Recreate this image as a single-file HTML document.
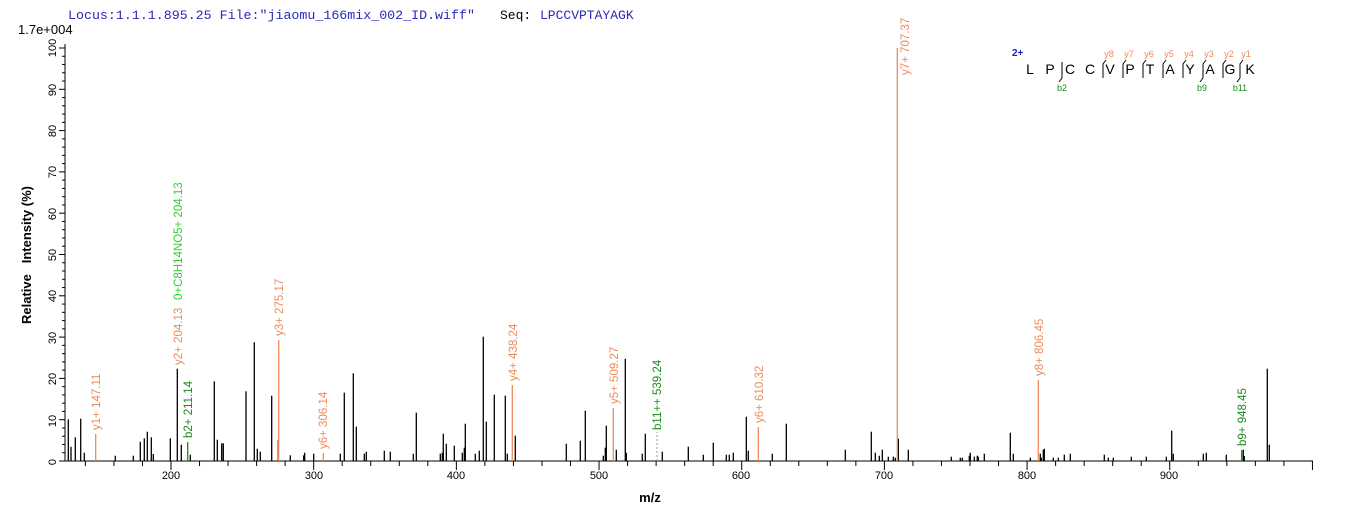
<!DOCTYPE html>
<html><head><meta charset="utf-8"><style>
html,body{margin:0;padding:0;background:#fff;}
svg{display:block;font-family:"Liberation Sans",Arial,sans-serif;}
</style></head><body>
<svg id="s" width="1362" height="520" viewBox="0 0 1362 520" xmlns="http://www.w3.org/2000/svg">
<text x="68" y="19" font-family="Liberation Mono, monospace" font-size="13.3" fill="#2a2ab8">Locus:1.1.1.895.25 File:"jiaomu_166mix_002_ID.wiff"</text>
<text x="500" y="19" font-family="Liberation Mono, monospace" font-size="13" fill="#000">Seq:</text>
<text x="540" y="19" font-family="Liberation Mono, monospace" font-size="13" fill="#2a2ab8">LPCCVPTAYAGK</text>
<text x="18" y="34" font-size="13" fill="#000">1.7e+004</text>
<text transform="translate(31,255) rotate(-90)" text-anchor="middle" font-size="13" font-weight="bold" fill="#000" style="white-space:pre">Relative   Intensity (%)</text>
<text x="650" y="502" text-anchor="middle" font-size="13" font-weight="bold" fill="#000">m/z</text>
<g id="ax" stroke="#000" stroke-width="1"></g>
<g id="pk" stroke="#000" stroke-width="1.3"></g>
<g font-size="11" fill="#000" text-anchor="middle">
<text transform="translate(56,462) rotate(-90)">0</text>
<text transform="translate(56,421) rotate(-90)">10</text>
<text transform="translate(56,379) rotate(-90)">20</text>
<text transform="translate(56,338) rotate(-90)">30</text>
<text transform="translate(56,296) rotate(-90)">40</text>
<text transform="translate(56,255) rotate(-90)">50</text>
<text transform="translate(56,214) rotate(-90)">60</text>
<text transform="translate(56,172) rotate(-90)">70</text>
<text transform="translate(56,131) rotate(-90)">80</text>
<text transform="translate(56,90) rotate(-90)">90</text>
<text transform="translate(56,48) rotate(-90)">100</text>
<text x="171" y="479">200</text><text x="314" y="479">300</text><text x="456" y="479">400</text>
<text x="599" y="479">500</text><text x="741" y="479">600</text><text x="884" y="479">700</text>
<text x="1027" y="479">800</text><text x="1169" y="479">900</text>
</g>
<g stroke="#ef8a5a" stroke-width="1.3">
<line x1="95.7" y1="461" x2="95.7" y2="434"/>
<line x1="278.7" y1="461" x2="278.7" y2="340"/>
<line x1="323.3" y1="461" x2="323.3" y2="453"/>
<line x1="512.3" y1="461" x2="512.3" y2="385"/>
<line x1="613.3" y1="461" x2="613.3" y2="408"/>
<line x1="758.3" y1="461" x2="758.3" y2="427"/>
<line x1="897.3" y1="461" x2="897.3" y2="48"/>
<line x1="1038.3" y1="461" x2="1038.3" y2="380"/>
</g>
<g stroke="#1a8a1a" stroke-width="1.3">
<line x1="187.7" y1="461" x2="187.7" y2="442"/>
<line x1="1241.7" y1="461" x2="1241.7" y2="450"/>
</g>
<line x1="657" y1="461" x2="657" y2="432" stroke="#999" stroke-dasharray="2,2"/>
<g font-size="11.5" fill="#ef8a5a">
<text transform="translate(100,430) rotate(-90)">y1+ 147.11</text>
<text transform="translate(182,365) rotate(-90)">y2+ 204.13</text>
<text transform="translate(283,336) rotate(-90)">y3+ 275.17</text>
<text transform="translate(327,449) rotate(-90)">y6+ 306.14</text>
<text transform="translate(517,381) rotate(-90)">y4+ 438.24</text>
<text transform="translate(618,404) rotate(-90)">y5+ 509.27</text>
<text transform="translate(763,423) rotate(-90)">y6+ 610.32</text>
<text transform="translate(909,75) rotate(-90)">y7+ 707.37</text>
<text transform="translate(1043,376) rotate(-90)">y8+ 806.45</text>
</g>
<g font-size="11.5" fill="#1a8a1a">
<text transform="translate(192,438) rotate(-90)">b2+ 211.14</text>
<text transform="translate(661,430) rotate(-90)">b11++ 539.24</text>
<text transform="translate(1246,446) rotate(-90)">b9+ 948.45</text>
</g>
<text transform="translate(182,300) rotate(-90)" font-size="11.5" fill="#33cc33">0+C8H14NO5+ 204.13</text>
<text x="1012" y="56" font-size="10" font-weight="bold" fill="#1a1acc">2+</text>
<g font-size="14" fill="#000" text-anchor="middle">
<text x="1030" y="74">L</text><text x="1050" y="74">P</text><text x="1070" y="74">C</text>
<text x="1090" y="74">C</text><text x="1110" y="74">V</text><text x="1130" y="74">P</text>
<text x="1150" y="74">T</text><text x="1170" y="74">A</text><text x="1190" y="74">Y</text>
<text x="1210" y="74">A</text><text x="1230" y="74">G</text><text x="1250" y="74">K</text>
</g>
<g stroke="#000" stroke-width="1" fill="none">
<path d="M1062,62 V78 L1059,82"/>
<path d="M1103,78 V64 L1106,60"/><path d="M1123,78 V64 L1126,60"/>
<path d="M1143,78 V64 L1146,60"/><path d="M1163,78 V64 L1166,60"/>
<path d="M1183,78 V64 L1186,60"/><path d="M1203,78 V64 L1206,60 M1203,78 L1200,82"/>
<path d="M1223,78 V64 L1226,60"/><path d="M1240,78 V64 L1243,60 M1240,78 L1237,82"/>
</g>
<g font-size="9" fill="#ef8a5a" text-anchor="middle">
<text x="1109" y="57">y8</text><text x="1129" y="57">y7</text><text x="1149" y="57">y6</text>
<text x="1169" y="57">y5</text><text x="1189" y="57">y4</text><text x="1209" y="57">y3</text>
<text x="1229" y="57">y2</text><text x="1246" y="57">y1</text>
</g>
<g font-size="9" fill="#1a8a1a" text-anchor="middle">
<text x="1062" y="91">b2</text><text x="1202" y="91">b9</text><text x="1240" y="91">b11</text>
</g>
</svg>
<script>
var NS="http://www.w3.org/2000/svg";
function L(g,x1,y1,x2,y2){var l=document.createElementNS(NS,"line");l.setAttribute("x1",x1);l.setAttribute("y1",y1);l.setAttribute("x2",x2);l.setAttribute("y2",y2);g.appendChild(l);}
var ax=document.getElementById("ax");
L(ax,65,461,1313,461);L(ax,65,461,65,44);
for(var i=0;i<=50;i++){var y=461-i*2*4.13;L(ax,65,y,i%5==0?59:62,y);}
for(var m=140;m<=1000;m+=20){var x=171+(m-200)*1.4268;if(x>1313)break;L(ax,x,461,x,m%100==0?470:466);}
var pk=[[68.3,41.7],[71,14.3],[75.3,23.7],[80.7,42.3],[84.3,8.3],[115.3,5.3],[133.3,5.3],[140.3,19.3],[144.3,22.7],[147.3,29.3],[151.3,23.7],[153.3,7],[170.3,22.7],[177.3,92.3],[181.3,16.3],[190.3,6.3],[214.3,79.7],[217.3,21.3],[221.7,17.7],[223.3,17.7],[246,69.7],[254.3,118.7],[257.3,12.3],[260.3,9.3],[271.7,65.3],[278.3,21.3],[290.3,5.7],[303.7,5.7],[304.7,8.3],[313.7,7.3],[340.3,7.3],[344.3,68.3],[353.3,87.7],[356.3,34.3],[364.3,7.3],[366.3,9.3],[384.3,10.3],[390.3,9.3],[413.3,7.3],[416.3,48.3],[440.3,7.3],[442.3,8.3],[443.3,27.3],[446.3,17.3],[454.3,15.3],[462.3,8.3],[464.3,13.3],[465.3,37.3],[475.3,7.3],[479.3,10.3],[483.3,124.3],[486.3,39.3],[494.3,66.3],[505.3,65.3],[507.3,7.3],[515.3,25.3],[566.3,17.3],[580.3,20.3],[585.3,50.3],[603.3,5.3],[605.3,13.3],[606.3,35.3],[616.3,11.3],[625.3,102.3],[626.3,8.3],[642.3,7.3],[645.3,27.3],[662.3,9.3],[688.3,14.3],[703.3,6.3],[713.3,18.3],[726.3,6.3],[729.3,6.3],[733.3,8.3],[746.3,44.3],[748.3,10.3],[772.3,7.3],[786.3,37.3],[845.3,11.3],[871.3,29.3],[875.3,8.3],[879.3,5.3],[882.3,11.3],[888.3,4.3],[893.3,4.3],[895.3,3.3],[898.3,22.3],[908.3,11.3],[951.3,4.3],[960.3,3.3],[962.3,3.3],[969.3,5.3],[970.3,8.3],[974.3,4.3],[977.3,5.3],[978.3,4.3],[984.3,7.3],[1010.3,28.3],[1013.3,7.3],[1030.3,3.3],[1040.3,7.3],[1041.3,3.3],[1043.3,11.3],[1044.3,12.3],[1053.3,3.3],[1058.3,3.3],[1064.3,6.3],[1070.3,7.3],[1104.3,6.3],[1108.3,3.3],[1113.3,3.3],[1131.3,4.3],[1146.3,4.3],[1166.3,4.3],[1171.7,30.3],[1173.3,7.3],[1203.3,7.3],[1206.3,8.3],[1226.3,6.3],[1243.3,11.3],[1244.3,5],[1267.3,92.3],[1269.3,16.3]];
var g=document.getElementById("pk");
pk.forEach(function(p){L(g,p[0],461,p[0],461-p[1]);});
</script>
</body></html>
